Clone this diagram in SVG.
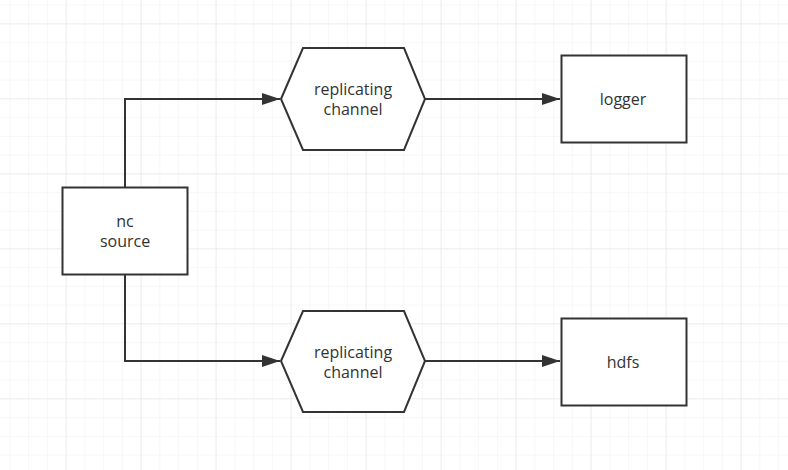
<svg xmlns="http://www.w3.org/2000/svg" width="788" height="470" viewBox="0 0 788 470">
<defs>
<pattern id="minor" x="9.4" y="4.6" width="18.75" height="18.75" patternUnits="userSpaceOnUse">
<path d="M0 0 H18.75 M0 0 V18.75" fill="none" stroke="#f0f0f0" stroke-width="1"/>
</pattern>
<pattern id="major" x="65.6" y="23.3" width="75" height="75" patternUnits="userSpaceOnUse">
<path d="M0 0 H75 M0 0 V75" fill="none" stroke="#e4e4e4" stroke-width="1"/>
</pattern>
<marker id="arrow" markerWidth="18" markerHeight="12" refX="18" refY="6" orient="auto" markerUnits="userSpaceOnUse">
<path d="M0 0 L18 6 L0 12 Z" fill="#333"/>
</marker>
</defs>
<style>
.shape{fill:#fff;stroke:#333;stroke-width:2}
.conn{fill:none;stroke:#333;stroke-width:2}
.t{font-family:"Open Sans","Liberation Sans",Arial,sans-serif;font-size:16px;fill:#333;text-anchor:middle}
</style>
<rect width="788" height="470" fill="#fff"/>
<rect width="788" height="470" fill="url(#minor)"/>
<rect width="788" height="470" fill="url(#major)"/>
<g id="connectors">
<path class="conn" d="M125 187 V99 H280" marker-end="url(#arrow)"/>
<path class="conn" d="M125 275 V361 H280" marker-end="url(#arrow)"/>
<path class="conn" d="M425 99 H560" marker-end="url(#arrow)"/>
<path class="conn" d="M425 361 H560" marker-end="url(#arrow)"/>
</g>
<g id="nc-source">
<rect class="shape" x="62.5" y="187.5" width="125" height="87"/>
<text class="t" x="125" y="227">nc</text>
<text class="t" x="125" y="247">source</text>
</g>
<g id="channel-top">
<polygon class="shape" points="281,99 303,48 404,48 425,99 404,150 303,150"/>
<text class="t" x="353" y="95">replicating</text>
<text class="t" x="353" y="115">channel</text>
</g>
<g id="channel-bottom">
<polygon class="shape" points="281,361 303,311 404,311 425,361 404,412 303,412"/>
<text class="t" x="353" y="358">replicating</text>
<text class="t" x="353" y="378">channel</text>
</g>
<g id="logger">
<rect class="shape" x="561.5" y="55.5" width="125" height="87"/>
<text class="t" x="623" y="105">logger</text>
</g>
<g id="hdfs">
<rect class="shape" x="561.5" y="318.5" width="125" height="87"/>
<text class="t" x="623" y="368">hdfs</text>
</g>
</svg>
